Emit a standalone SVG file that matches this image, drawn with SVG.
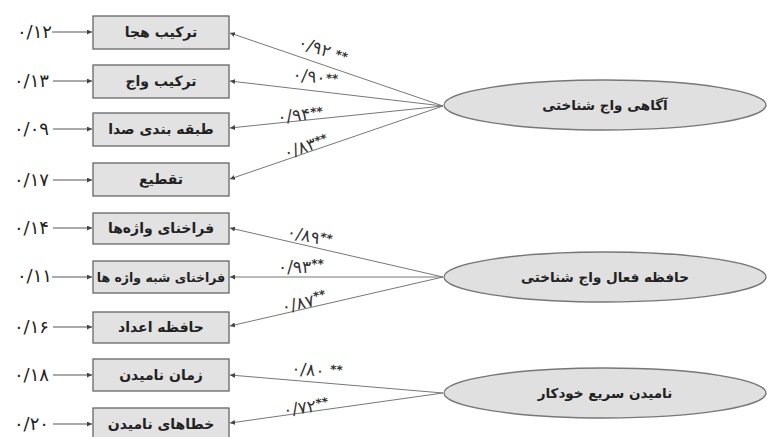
<svg xmlns="http://www.w3.org/2000/svg" width="767" height="437" viewBox="0 0 767 437">
<style>
.box{fill:#e2e2e2;stroke:#666;stroke-width:1.3}
.ell{fill:#e0e0e0;stroke:#777;stroke-width:1.3}
.lbl{font-family:"DejaVu Sans",sans-serif;font-weight:bold;font-size:14px;fill:#222;text-anchor:middle}
.big{font-family:"DejaVu Sans",sans-serif;font-weight:bold;font-size:13.5px;fill:#222;text-anchor:middle}
.num{font-family:"DejaVu Sans",sans-serif;font-size:18px;letter-spacing:3px;fill:#222;text-anchor:end}
.coef{font-family:"DejaVu Sans",sans-serif;font-size:17px;letter-spacing:2px;fill:#333}
.st{font-size:12px;font-weight:bold;letter-spacing:0}
.ln{stroke:#777;stroke-width:1;fill:none;marker-end:url(#ah)}
.en{stroke:#555;stroke-width:1;fill:none;marker-end:url(#ah)}
</style>
<defs>
<marker id="ah" viewBox="0 0 6 6" refX="6" refY="3" markerWidth="5" markerHeight="5" orient="auto" markerUnits="userSpaceOnUse">
<path d="M0,0 L6,3 L0,6 z" fill="#444"/>
</marker>
</defs>
<rect width="767" height="437" fill="#fff"/>
<g id="connectors">
<line class="ln" x1="443" y1="106" x2="230" y2="33"/>
<line class="ln" x1="443" y1="106" x2="230" y2="81"/>
<line class="ln" x1="443" y1="106" x2="230" y2="128"/>
<line class="ln" x1="443" y1="106" x2="230" y2="179"/>
<line class="ln" x1="443" y1="277" x2="230" y2="228"/>
<line class="ln" x1="443" y1="277" x2="230" y2="277"/>
<line class="ln" x1="443" y1="277" x2="230" y2="326"/>
<line class="ln" x1="443" y1="393" x2="230" y2="375"/>
<line class="ln" x1="443" y1="393" x2="230" y2="423"/>
<line class="en" x1="52" y1="32" x2="92" y2="32"/>
<line class="en" x1="53" y1="81" x2="92" y2="81"/>
<line class="en" x1="53" y1="129" x2="92" y2="129"/>
<line class="en" x1="53" y1="180" x2="92" y2="180"/>
<line class="en" x1="53" y1="228" x2="92" y2="228"/>
<line class="en" x1="52" y1="277" x2="92" y2="277"/>
<line class="en" x1="53" y1="327" x2="92" y2="327"/>
<line class="en" x1="53" y1="375" x2="92" y2="375"/>
<line class="en" x1="53" y1="424" x2="92" y2="424"/>
<text class="coef" transform="translate(297,47) rotate(18.8)">۰/۹۲ <tspan class="st" dy="-2">**</tspan></text>
<text class="coef" transform="translate(292,80) rotate(6.7)">۰/۹۰<tspan class="st" dy="-2">**</tspan></text>
<text class="coef" transform="translate(278,123) rotate(-5.9)">۰/۹۴<tspan class="st" dy="-3">**</tspan></text>
<text class="coef" transform="translate(286,159) rotate(-18.8)">۰/۸۳<tspan class="st" dy="-3">**</tspan></text>
<text class="coef" transform="translate(286,237) rotate(12.9)">۰/۸۹<tspan class="st" dy="-4">**</tspan></text>
<text class="coef" transform="translate(278,273)">۰/۹۳<tspan class="st" dy="-5">**</tspan></text>
<text class="coef" transform="translate(283,313) rotate(-12.9)">۰/۸۷<tspan class="st" dy="-5">**</tspan></text>
<text class="coef" transform="translate(291,374) rotate(4.8)">۰/۸۰ <tspan class="st" dy="-4">**</tspan></text>
<text class="coef" transform="translate(284,416) rotate(-8)">۰/۷۲<tspan class="st" dy="-4">**</tspan></text>
</g>
<g id="n1"><rect class="box" x="93" y="16" width="136" height="33"/><text class="lbl" x="161" y="37">ترکیب هجا</text><text class="num" x="52" y="38">۰/۱۲</text></g>
<g id="n2"><rect class="box" x="93" y="65" width="136" height="33"/><text class="lbl" x="161" y="86">ترکیب واج</text><text class="num" x="49" y="87">۰/۱۳</text></g>
<g id="n3"><rect class="box" x="93" y="113" width="136" height="33"/><text class="lbl" x="161" y="134">طبقه بندی صدا</text><text class="num" x="49" y="135">۰/۰۹</text></g>
<g id="n4"><rect class="box" x="93" y="163" width="136" height="33"/><text class="lbl" x="161" y="184">تقطیع</text><text class="num" x="49" y="186">۰/۱۷</text></g>
<g id="n5"><rect class="box" x="93" y="213" width="136" height="31"/><text class="lbl" x="161" y="233">فراخنای واژه‌ها</text><text class="num" x="49" y="234">۰/۱۴</text></g>
<g id="n6"><rect class="box" x="93" y="261" width="136" height="32"/><text class="lbl" x="161" y="282" style="font-size:12.5px">فراخنای شبه واژه ها</text><text class="num" x="52" y="282">۰/۱۱</text></g>
<g id="n7"><rect class="box" x="93" y="312" width="136" height="31"/><text class="lbl" x="161" y="332">حافظه  اعداد</text><text class="num" x="49" y="333">۰/۱۶</text></g>
<g id="n8"><rect class="box" x="93" y="359" width="136" height="32"/><text class="lbl" x="161" y="380">زمان نامیدن</text><text class="num" x="49" y="381">۰/۱۸</text></g>
<g id="n9"><rect class="box" x="93" y="408" width="136" height="32"/><text class="lbl" x="161" y="429">خطاهای نامیدن</text><text class="num" x="49" y="430">۰/۲۰</text></g>
<g id="f1"><ellipse class="ell" cx="605" cy="105" rx="161" ry="25"/><text class="big" x="605" y="110">آگاهی واج شناختی</text></g>
<g id="f2"><ellipse class="ell" cx="605" cy="277" rx="161" ry="25"/><text class="big" x="605" y="282">حافظه فعال واج شناختی</text></g>
<g id="f3"><ellipse class="ell" cx="605" cy="393" rx="161" ry="25"/><text class="big" x="605" y="398">نامیدن سریع خودکار</text></g>
</svg>
